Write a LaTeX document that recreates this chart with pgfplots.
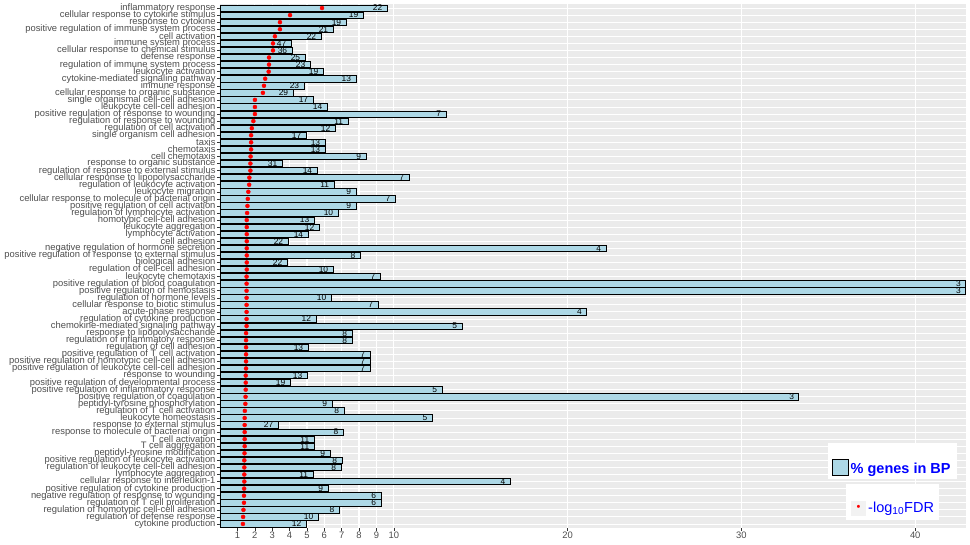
\documentclass[border=0pt]{standalone}
\usepackage{pgfplots}
\pgfplotsset{compat=1.18}
\usepackage{pgfplotstable}
\usepackage{fontspec}
\setmainfont{Liberation Sans}
\definecolor{lb}{HTML}{ADD8E6}
\definecolor{panel}{HTML}{EBEBEB}
\definecolor{labgray}{HTML}{4D4D4D}
\definecolor{tickgray}{HTML}{333333}
\definecolor{keybg}{HTML}{F2F2F2}
\pgfplotstableread{
idx pct cnt fdr
0 9.61 22 5.87
1 8.23 19 4.03
2 7.25 19 3.45
3 6.50 21 3.45
4 5.81 22 3.16
5 4.09 47 3.05
6 4.14 36 3.05
7 4.89 25 2.82
8 5.18 23 2.82
9 5.93 19 2.80
10 7.82 13 2.60
11 4.83 23 2.53
12 4.20 29 2.47
13 5.35 17 2.01
14 6.16 14 2.01
15 13.00 7 2.01
16 7.36 11 1.92
17 6.62 12 1.83
18 4.95 17 1.79
19 6.04 13 1.79
20 6.04 13 1.79
21 8.40 9 1.76
22 3.57 31 1.75
23 5.58 14 1.75
24 10.87 7 1.69
25 6.56 11 1.68
26 7.82 9 1.63
27 10.07 7 1.60
28 7.82 9 1.58
29 6.79 10 1.56
30 5.41 13 1.54
31 5.70 12 1.54
32 5.06 14 1.54
33 3.91 22 1.54
34 22.20 4 1.54
35 8.06 8 1.54
36 3.86 22 1.54
37 6.50 10 1.54
38 9.21 7 1.53
39 42.90 3 1.53
40 42.90 3 1.53
41 6.39 10 1.53
42 9.09 7 1.53
43 21.10 4 1.53
44 5.52 12 1.53
45 13.92 5 1.53
46 7.59 8 1.50
47 7.59 8 1.50
48 5.06 13 1.50
49 8.63 7 1.50
50 8.63 7 1.50
51 8.63 7 1.50
52 5.01 13 1.48
53 4.03 19 1.48
54 12.77 5 1.48
55 33.30 3 1.47
56 6.44 9 1.46
57 7.13 8 1.43
58 12.20 5 1.42
59 3.34 27 1.42
60 7.08 8 1.42
61 5.41 11 1.42
62 5.41 11 1.42
63 6.33 9 1.41
64 7.02 8 1.40
65 6.96 8 1.40
66 5.35 11 1.40
67 16.70 4 1.40
68 6.21 9 1.39
69 9.26 6 1.38
70 9.26 6 1.38
71 6.85 8 1.35
72 5.64 10 1.33
73 4.95 12 1.32
}\data
\begin{document}
\begin{tikzpicture}
\begin{axis}[
  at={(0pt,0pt)}, anchor=south west,
  scale only axis, width=746pt, height=524.4pt,
  xmin=0, xmax=42.92,
  ymin=-0.6, ymax=73.6, y dir=reverse,
  axis background/.style={fill=panel},
  axis line style={draw=none},
  xtick={1,2,3,4,5,6,7,8,9,10,20,30,40},
  ytick={0,...,73},
  yticklabels={
    {inflammatory response},
    {cellular response to cytokine stimulus},
    {response to cytokine},
    {positive regulation of immune system process},
    {cell activation},
    {immune system process},
    {cellular response to chemical stimulus},
    {defense response},
    {regulation of immune system process},
    {leukocyte activation},
    {cytokine-mediated signaling pathway},
    {immune response},
    {cellular response to organic substance},
    {single organismal cell-cell adhesion},
    {leukocyte cell-cell adhesion},
    {positive regulation of response to wounding},
    {regulation of response to wounding},
    {regulation of cell activation},
    {single organism cell adhesion},
    {taxis},
    {chemotaxis},
    {cell chemotaxis},
    {response to organic substance},
    {regulation of response to external stimulus},
    {cellular response to lipopolysaccharide},
    {regulation of leukocyte activation},
    {leukocyte migration},
    {cellular response to molecule of bacterial origin},
    {positive regulation of cell activation},
    {regulation of lymphocyte activation},
    {homotypic cell-cell adhesion},
    {leukocyte aggregation},
    {lymphocyte activation},
    {cell adhesion},
    {negative regulation of hormone secretion},
    {positive regulation of response to external stimulus},
    {biological adhesion},
    {regulation of cell-cell adhesion},
    {leukocyte chemotaxis},
    {positive regulation of blood coagulation},
    {positive regulation of hemostasis},
    {regulation of hormone levels},
    {cellular response to biotic stimulus},
    {acute-phase response},
    {regulation of cytokine production},
    {chemokine-mediated signaling pathway},
    {response to lipopolysaccharide},
    {regulation of inflammatory response},
    {regulation of cell adhesion},
    {positive regulation of T cell activation},
    {positive regulation of homotypic cell-cell adhesion},
    {positive regulation of leukocyte cell-cell adhesion},
    {response to wounding},
    {positive regulation of developmental process},
    {positive regulation of inflammatory response},
    {positive regulation of coagulation},
    {peptidyl-tyrosine phosphorylation},
    {regulation of T cell activation},
    {leukocyte homeostasis},
    {response to external stimulus},
    {response to molecule of bacterial origin},
    {T cell activation},
    {T cell aggregation},
    {peptidyl-tyrosine modification},
    {positive regulation of leukocyte activation},
    {regulation of leukocyte cell-cell adhesion},
    {lymphocyte aggregation},
    {cellular response to interleukin-1},
    {positive regulation of cytokine production},
    {negative regulation of response to wounding},
    {regulation of T cell proliferation},
    {regulation of homotypic cell-cell adhesion},
    {regulation of defense response},
    {cytokine production}},
  xtick pos=bottom, ytick pos=left,
  tick align=outside, major tick length=2.8pt,
  tick style={color=tickgray, line width=0.5pt},
  xmajorgrids, ymajorgrids,
  x grid style={white, line width=1.2pt},
  y grid style={white, line width=0.9pt},
  /pgf/number format/assume math mode=true,
  ticklabel style={font=\fontsize{9.4}{10}\selectfont, text=labgray},
  yticklabel style={inner sep=1.5pt},
  xticklabel style={inner sep=1.2pt},
]
\addplot[xbar, bar shift=0pt, bar width=0.9, fill=lb, draw=black, line width=0.7pt,
  nodes near coords, point meta=explicit symbolic,
  nodes near coords align={anchor=east},
  every node near coord/.style={font=\fontsize{8.4}{9}\selectfont, text=black, inner sep=0pt, xshift=-4.5pt, anchor=east}]
  table[x=pct, y=idx, meta=cnt] {\data};
\addplot[only marks, mark=*, mark size=2pt, color=red, mark options={fill=red, draw=red}]
  table[x=fdr, y=idx] {\data};
\end{axis}
% legend boxes
\fill[white] (608pt,49.2pt) rectangle (737pt,85.2pt);
\draw[fill=lb, line width=0.8pt, draw=black] (612.3pt,53.2pt) rectangle (628.3pt,68.9pt);
\node[anchor=base west, inner sep=0pt, text=blue, font=\bfseries\fontsize{14.5}{16}\selectfont] at (630.5pt,55.2pt) {\% genes in BP};
\fill[white] (626pt,8.2pt) rectangle (719pt,44.2pt);
\fill[keybg] (631pt,12.5pt) rectangle (646pt,27.2pt);
\node[inner sep=0pt, text=red, font=\fontsize{11}{12}\selectfont] at (638.5pt,20.5pt) {•};
\node[anchor=base west, inner sep=0pt, text=blue, font=\fontsize{14.5}{16}\selectfont] at (648pt,15.5pt) {-log\textsubscript{10}FDR};
\pgfresetboundingbox
\path[use as bounding box] (-220pt,-15.8pt) rectangle (750pt,528.2pt);
\end{tikzpicture}
\end{document}
